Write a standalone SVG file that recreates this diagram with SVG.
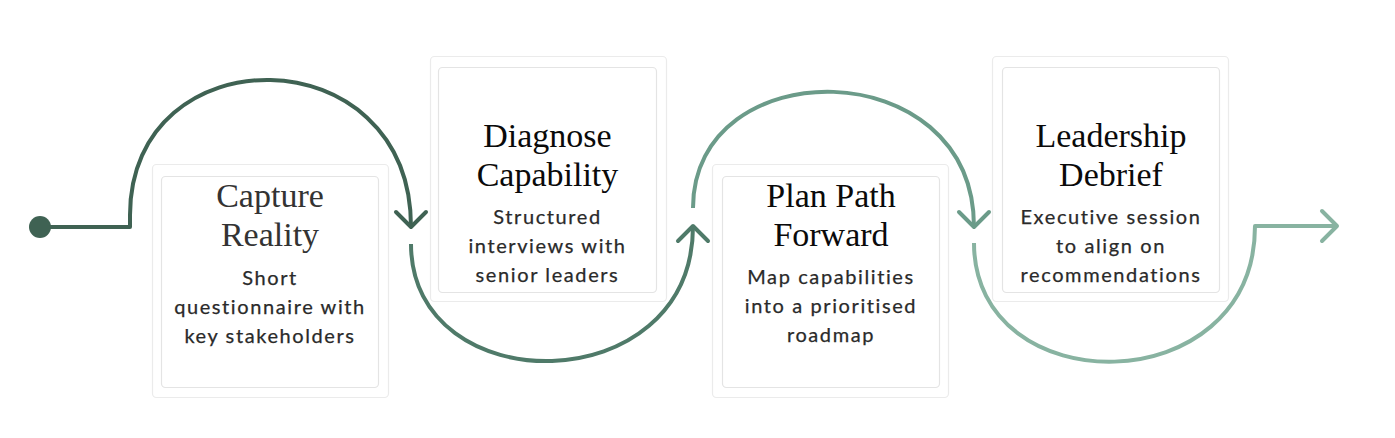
<svg xmlns="http://www.w3.org/2000/svg" width="1395" height="438" viewBox="0 0 1395 438">
  <style>
    .outer { fill: #ffffff; stroke: #ebebeb; stroke-width: 1.2; }
    .inner { fill: #ffffff; stroke: #e4e4e4; stroke-width: 1.2; }
    .title { font-family: "Liberation Serif", "Times New Roman", serif; font-size: 34px; text-anchor: middle; fill: #0a0a0a; }
    .title.muted { fill: #333333; }
    .body { font-family: Lato, "Liberation Sans", sans-serif; font-size: 20px; text-anchor: middle; fill: #2a2a2a; letter-spacing: 1.6px; stroke: #2a2a2a; stroke-width: 0.25px; }
    .conn { fill: none; stroke-width: 4; stroke-linejoin: round; }
    .head { fill: none; stroke-width: 4; stroke-linecap: round; stroke-linejoin: round; }
  </style>
  <rect width="1395" height="438" fill="#ffffff"/>

  <g id="node-capture-reality">
    <rect class="outer" x="152.5" y="164.5" width="236" height="233" rx="4"/>
    <rect class="inner" x="161.5" y="176.5" width="217" height="211" rx="4"/>
    <text class="title muted" x="270" y="207">Capture</text>
    <text class="title muted" x="270" y="246">Reality</text>
    <text class="body" x="270" y="285">Short</text>
    <text class="body" x="270" y="314">questionnaire with</text>
    <text class="body" x="270" y="343">key stakeholders</text>
  </g>

  <g id="node-diagnose-capability">
    <rect class="outer" x="430.5" y="56.5" width="236" height="245" rx="4"/>
    <rect class="inner" x="438.5" y="67.5" width="218" height="225" rx="4"/>
    <text class="title" x="547.5" y="147">Diagnose</text>
    <text class="title" x="547.5" y="186">Capability</text>
    <text class="body" x="547.5" y="224">Structured</text>
    <text class="body" x="547.5" y="253">interviews with</text>
    <text class="body" x="547.5" y="282">senior leaders</text>
  </g>

  <g id="node-plan-path-forward">
    <rect class="outer" x="712.5" y="164.5" width="236" height="233" rx="4"/>
    <rect class="inner" x="722.5" y="176.5" width="217" height="211" rx="4"/>
    <text class="title" x="831" y="207">Plan Path</text>
    <text class="title" x="831" y="246">Forward</text>
    <text class="body" x="831" y="284">Map capabilities</text>
    <text class="body" x="831" y="313">into a prioritised</text>
    <text class="body" x="831" y="342">roadmap</text>
  </g>

  <g id="node-leadership-debrief">
    <rect class="outer" x="992.5" y="56.5" width="236" height="245" rx="4"/>
    <rect class="inner" x="1002.5" y="67.5" width="217" height="225" rx="4"/>
    <text class="title" x="1111" y="147">Leadership</text>
    <text class="title" x="1111" y="186">Debrief</text>
    <text class="body" x="1111" y="224">Executive session</text>
    <text class="body" x="1111" y="253">to align on</text>
    <text class="body" x="1111" y="282">recommendations</text>
  </g>

  <g id="connectors">
    <circle cx="40" cy="227" r="11" fill="#3f6253"/>
    <path class="conn" stroke="#3f6253" d="M40 227 H130 V215 C130 33 411 33 411 227"/>
    <path class="head" stroke="#3f6253" d="M396 212 L411 227 L426 212"/>

    <path class="conn" stroke="#4f7a69" d="M411 244 C411 403 693 403 693 226"/>
    <path class="head" stroke="#4f7a69" d="M678 241 L693 226 L708 241"/>

    <path class="conn" stroke="#6b9b89" d="M693 208 C693 50 974 50 974 227"/>
    <path class="head" stroke="#6b9b89" d="M959 212 L974 227 L989 212"/>

    <path class="conn" stroke="#88b3a1" d="M974 243 C974 404 1255 404 1255 226 H1337"/>
    <path class="head" stroke="#88b3a1" d="M1322 211 L1337 226 L1322 241"/>
  </g>
</svg>
